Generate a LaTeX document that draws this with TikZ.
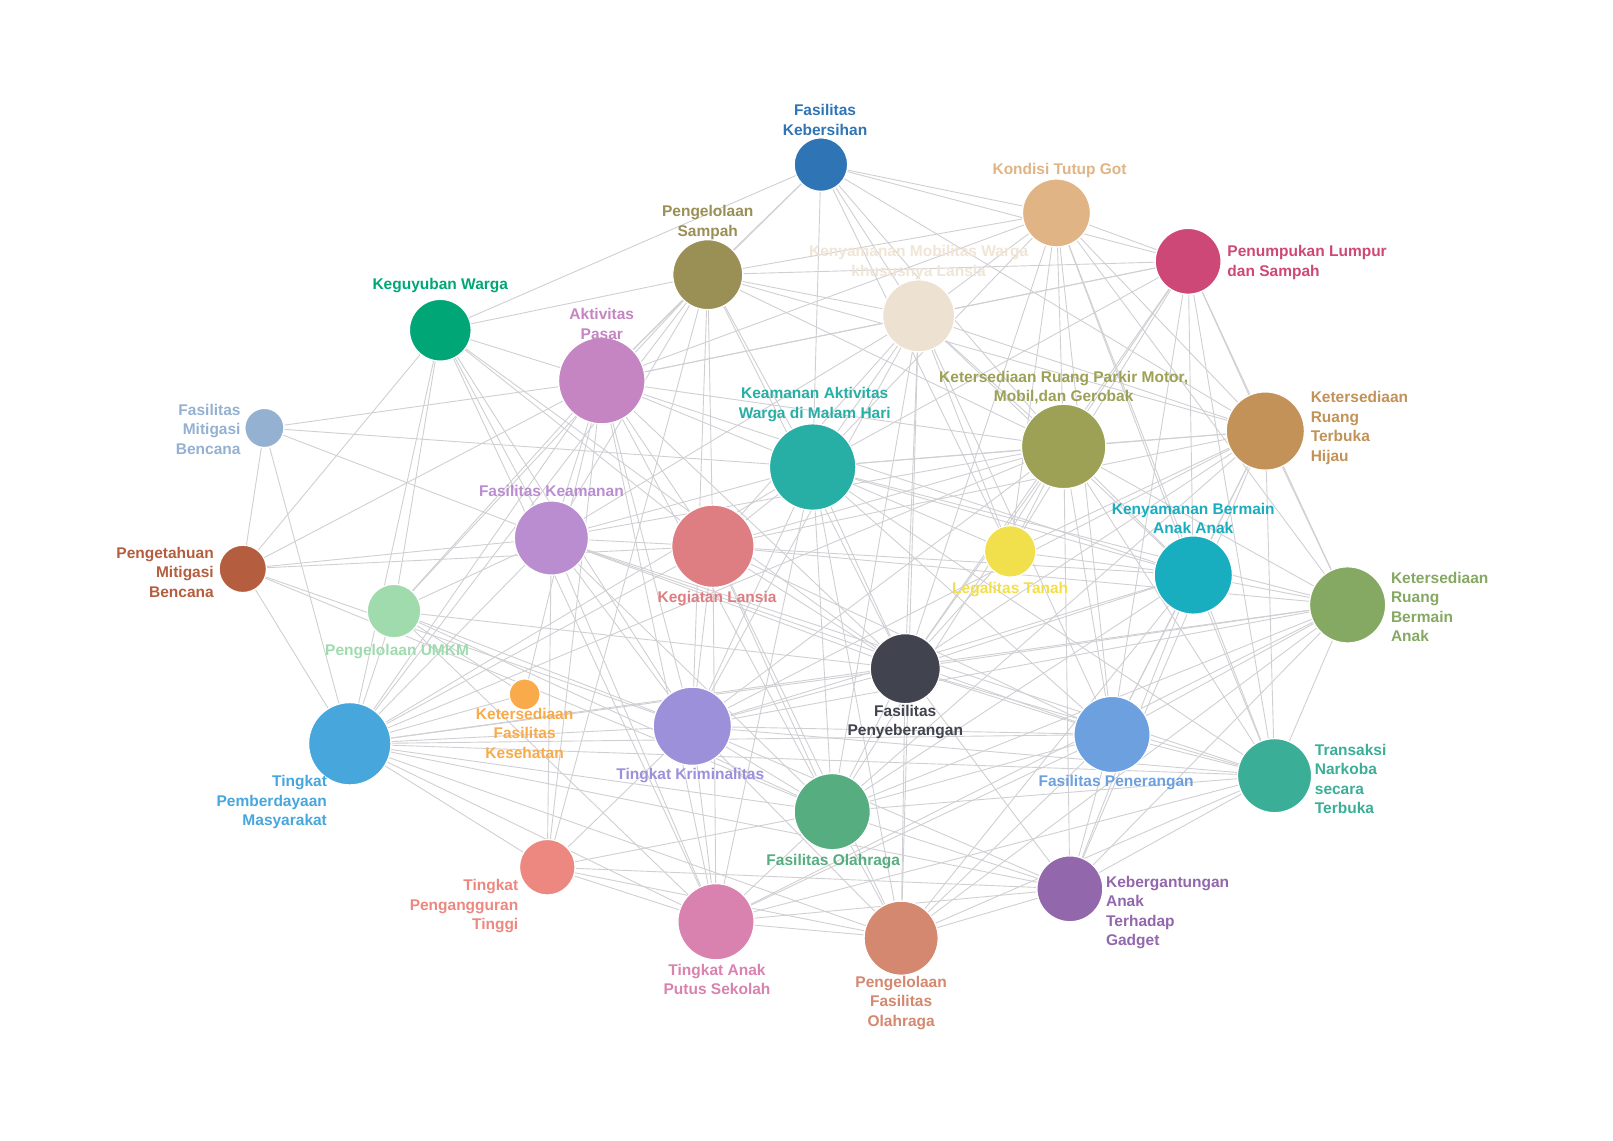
\documentclass[tikz,border=0pt]{standalone}
\usepackage{fontspec}
\setmainfont{Liberation Sans}
\usetikzlibrary{backgrounds}
\definecolor{cFK}{HTML}{2F75B5}
\definecolor{cKTG}{HTML}{E1B486}
\definecolor{cPLS}{HTML}{CD4877}
\definecolor{cPS}{HTML}{9A8F55}
\definecolor{cKMW}{HTML}{EDE2D2}
\definecolor{cKMWl}{HTML}{F0E5D6}
\definecolor{cKW}{HTML}{00A676}
\definecolor{cAP}{HTML}{C585C3}
\definecolor{cFMB}{HTML}{95B1D1}
\definecolor{cKAW}{HTML}{27AEA5}
\definecolor{cKRP}{HTML}{9DA155}
\definecolor{cKRTH}{HTML}{C29258}
\definecolor{cFKe}{HTML}{B98DD0}
\definecolor{cKL}{HTML}{DE7E82}
\definecolor{cLT}{HTML}{F2DF4C}
\definecolor{cKBA}{HTML}{18AEC0}
\definecolor{cKRBA}{HTML}{85A963}
\definecolor{cPMB}{HTML}{B55E3F}
\definecolor{cPUMKM}{HTML}{A0DBAE}
\definecolor{cFP}{HTML}{41444F}
\definecolor{cKFK}{HTML}{F9AA4A}
\definecolor{cTPM}{HTML}{47A7DC}
\definecolor{cTK}{HTML}{9C90DB}
\definecolor{cFPen}{HTML}{6DA0DF}
\definecolor{cTNS}{HTML}{3AAE97}
\definecolor{cFO}{HTML}{56AD80}
\definecolor{cTPT}{HTML}{ED8880}
\definecolor{cKAG}{HTML}{9267AC}
\definecolor{cTAPS}{HTML}{D982AF}
\definecolor{cPFO}{HTML}{D4886F}
\definecolor{edgecol}{RGB}{208,208,212}
\tikzset{
  nd/.style 2 args={circle,fill=#1,draw=white,line width=1.2pt,inner sep=0pt,minimum size=#2*2.0574pt},
  lbl/.style={text=#1,inner sep=0pt,font=\fontsize{15.5}{19.5}\selectfont\bfseries},
  edge/.style={draw=edgecol,line width=0.9pt}
}
\begin{document}
\begin{tikzpicture}[x=1.0287pt,y=-1.0287pt]
\useasboundingbox (0,0) rectangle (1568,1109);
% nodes
\node[nd={cFK}{26}] (FK) at (798,160) {};
\node[nd={cKTG}{33}] (KTG) at (1027,207) {};
\node[nd={cPLS}{32}] (PLS) at (1155,254) {};
\node[nd={cPS}{34}] (PS) at (688,267) {};
\node[nd={cKMW}{35}] (KMW) at (893,307) {};
\node[nd={cKW}{30}] (KW) at (428,321) {};
\node[nd={cAP}{42}] (AP) at (585,370) {};
\node[nd={cFMB}{19}] (FMB) at (257,416) {};
\node[nd={cKAW}{42}] (KAW) at (790,454) {};
\node[nd={cKRP}{41}] (KRP) at (1034,434) {};
\node[nd={cKRTH}{38}] (KRTH) at (1230,419) {};
\node[nd={cFKe}{36}] (FKe) at (536,523) {};
\node[nd={cKL}{40}] (KL) at (693,531) {};
\node[nd={cLT}{25}] (LT) at (982,536) {};
\node[nd={cKBA}{38}] (KBA) at (1160,559) {};
\node[nd={cKRBA}{37}] (KRBA) at (1310,588) {};
\node[nd={cPMB}{23}] (PMB) at (236,553) {};
\node[nd={cPUMKM}{26}] (PUMKM) at (383,594) {};
\node[nd={cFP}{34}] (FP) at (880,650) {};
\node[nd={cKFK}{15}] (KFK) at (510,675) {};
\node[nd={cTPM}{40}] (TPM) at (340,723) {};
\node[nd={cTK}{38}] (TK) at (673,706) {};
\node[nd={cFPen}{37}] (FPen) at (1081,714) {};
\node[nd={cTNS}{36}] (TNS) at (1239,754) {};
\node[nd={cFO}{37}] (FO) at (809,789) {};
\node[nd={cTPT}{27}] (TPT) at (532,843) {};
\node[nd={cKAG}{32}] (KAG) at (1040,864) {};
\node[nd={cTAPS}{37}] (TAPS) at (696,896) {};
\node[nd={cPFO}{36}] (PFO) at (876,912) {};
% edges
\begin{scope}[on background layer]
\fill[white] (0,0) rectangle (1568,1109);
\foreach \b in {KW,PS,AP,KTG,PLS,KRTH,KMW,KRP,LT,KAW} \draw[edge] (FK) -- (\b);
\foreach \b in {PS,KMW,PLS,KRP,KRTH,KBA,KRBA,TNS,LT,AP,FPen,KAW,FP} \draw[edge] (KTG) -- (\b);
\foreach \b in {PS,KMW,KRP,KBA,KRTH,TNS,LT,AP,KRBA,FPen,FP,KAW} \draw[edge] (PLS) -- (\b);
\foreach \b in {KW,AP,KMW,KAW,KRP,KL,FKe,TK,PUMKM,TPM,KRTH,FP} \draw[edge] (PS) -- (\b);
\foreach \b in {AP,KAW,KRP,KL,LT,KBA,FP,FO,TK,FPen,KRTH,PFO,FKe} \draw[edge] (KMW) -- (\b);
\foreach \b in {AP,KL,FP,PMB,PUMKM,TPM,TK,TAPS,FKe} \draw[edge] (KW) -- (\b);
\foreach \b in {FMB,KAW,KRP,FKe,KL,TK,PMB,PUMKM,TPM,KFK,FO,FP,TPT,TAPS,KBA} \draw[edge] (AP) -- (\b);
\foreach \b in {KAW,FKe,PMB,TPM} \draw[edge] (FMB) -- (\b);
\foreach \b in {KRP,KRTH,KBA,LT,KL,FKe,TK,FP,FO,FPen,TNS,TPM,TAPS,PFO,KRBA} \draw[edge] (KAW) -- (\b);
\foreach \b in {KRTH,KBA,KRBA,LT,FP,FPen,TNS,FO,KL,FKe,TK,KAG,TPM} \draw[edge] (KRP) -- (\b);
\foreach \b in {KBA,KRBA,TNS,FPen,LT,FP,FO,KAG,KL,TK} \draw[edge] (KRTH) -- (\b);
\foreach \b in {KL,TK,FP,TPM,PUMKM,FO,FPen,TAPS,TNS,PMB,TPT} \draw[edge] (FKe) -- (\b);
\foreach \b in {TK,FP,FO,TPM,TAPS,PFO,KBA,KRBA,FPen,PMB} \draw[edge] (KL) -- (\b);
\foreach \b in {FP,KBA} \draw[edge] (LT) -- (\b);
\foreach \b in {KRBA,FPen,TNS,FO,FP,KAG,TK,PFO} \draw[edge] (KBA) -- (\b);
\foreach \b in {FP,FPen,TNS,FO,KAG,PFO,TK,TAPS,TPM} \draw[edge] (KRBA) -- (\b);
\foreach \b in {TPM,TK,FO} \draw[edge] (PMB) -- (\b);
\foreach \b in {TPM,TK,FO,FP,KFK,TAPS} \draw[edge] (PUMKM) -- (\b);
\foreach \b in {FPen,TNS,FO,TK,KAG,PFO,TPM} \draw[edge] (FP) -- (\b);
\foreach \b in {TPM} \draw[edge] (KFK) -- (\b);
\foreach \b in {TK,FO,TPT,TAPS,PFO,FPen,KAG,TNS} \draw[edge] (TPM) -- (\b);
\foreach \b in {FO,TPT,TAPS,PFO,FPen,TNS,KAG} \draw[edge] (TK) -- (\b);
\foreach \b in {FO,TNS,KAG,PFO,TAPS} \draw[edge] (FPen) -- (\b);
\foreach \b in {FO,KAG,PFO,TAPS} \draw[edge] (TNS) -- (\b);
\foreach \b in {TPT,TAPS,PFO,KAG} \draw[edge] (FO) -- (\b);
\foreach \b in {TAPS,PFO,KAG,PS} \draw[edge] (TPT) -- (\b);
\foreach \b in {TAPS,PFO} \draw[edge] (KAG) -- (\b);
\draw[edge] (TAPS) -- (PFO);
\end{scope}
% labels
\node[lbl=cFK,align=center,anchor=south] (FKl) at (802,132) {Fasilitas\\Kebersihan};
\node[lbl=cKTG,align=center] (KTGl) at (1030,166) {Kondisi Tutup Got};
\node[lbl=cPLS,align=left,anchor=west] (PLSl) at (1193,255) {Penumpukan Lumpur\\dan Sampah};
\node[lbl=cPS,align=center,anchor=south] (PSl) at (688,233) {Pengelolaan\\Sampah};
\node[lbl=cKMWl,align=center,anchor=south] (KMWl) at (893,272) {Kenyamanan Mobilitas Warga\\khususnya Lansia};
\node[lbl=cKW,align=center] (KWl) at (428,278) {Keguyuban Warga};
\node[lbl=cAP,align=center,anchor=south] (APl) at (585,330) {Aktivitas\\Pasar};
\node[lbl=cFMB,align=right,anchor=east] (FMBl) at (234,417) {Fasilitas\\Mitigasi\\Bencana};
\node[lbl=cKAW,align=center,anchor=south] (KAWl) at (792,410) {Keamanan Aktivitas\\Warga di Malam Hari};
\node[lbl=cKRP,align=center,anchor=south] (KRPl) at (1034,393) {Ketersediaan Ruang Parkir Motor,\\Mobil,dan Gerobak};
\node[lbl=cKRTH,align=left,anchor=west] (KRTHl) at (1274,416) {Ketersediaan\\Ruang\\Terbuka\\Hijau};
\node[lbl=cFKe,align=center] (FKel) at (536,477) {Fasilitas Keamanan};
\node[lbl=cKL,align=center] (KLl) at (697,582) {Kegiatan Lansia};
\node[lbl=cLT,align=center] (LTl) at (982,573) {Legalitas Tanah};
\node[lbl=cKBA,align=center,anchor=south] (KBAl) at (1160,519) {Kenyamanan Bermain\\Anak Anak};
\node[lbl=cKRBA,align=left,anchor=west] (KRBAl) at (1352,590) {Ketersediaan\\Ruang\\Bermain\\Anak};
\node[lbl=cPMB,align=right,anchor=east] (PMBl) at (208,556) {Pengetahuan\\Mitigasi\\Bencana};
\node[lbl=cPUMKM,align=center] (PUMKMl) at (386,633) {Pengelolaan UMKM};
\node[lbl=cFP,align=center,anchor=north] (FPl) at (880,685) {Fasilitas\\Penyeberangan};
\node[lbl=cKFK,align=center,anchor=north] (KFKl) at (510,688) {Ketersediaan\\Fasilitas\\Kesehatan};
\node[lbl=cTPM,align=right,anchor=east] (TPMl) at (318,780) {Tingkat\\Pemberdayaan\\Masyarakat};
\node[lbl=cTK,align=center] (TKl) at (671,754) {Tingkat Kriminalitas};
\node[lbl=cFPen,align=center] (FPenl) at (1085,761) {Fasilitas Penerangan};
\node[lbl=cTNS,align=left,anchor=west] (TNSl) at (1278,757) {Transaksi\\Narkoba\\secara\\Terbuka};
\node[lbl=cFO,align=center] (FOl) at (810,837) {Fasilitas Olahraga};
\node[lbl=cTPT,align=right,anchor=east] (TPTl) at (504,881) {Tingkat\\Pengangguran\\Tinggi};
\node[lbl=cKAG,align=left,anchor=west] (KAGl) at (1075,887) {Kebergantungan\\Anak\\Terhadap\\Gadget};
\node[lbl=cTAPS,align=center] (TAPSl) at (697,952) {Tingkat Anak\\Putus Sekolah};
\node[lbl=cPFO,align=center] (PFOl) at (876,975) {Pengelolaan\\Fasilitas\\Olahraga};
\end{tikzpicture}
\end{document}
